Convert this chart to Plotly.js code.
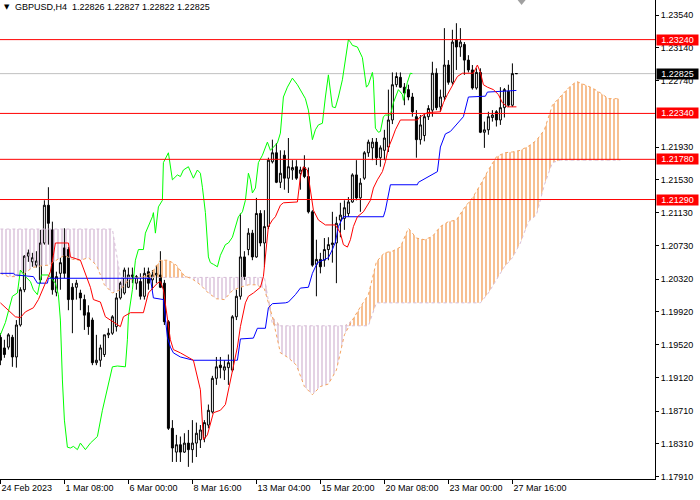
<!DOCTYPE html>
<html><head><meta charset="utf-8">
<script src="https://cdn.plot.ly/plotly-3.0.1.min.js"></script>
<style>html,body{margin:0;padding:0;background:#fff}#chart{width:700px;height:500px}</style>
</head><body><div id="chart"></div>
<script>
const symbol = 'GBPUSD,H4';
const xTickBars = [0,16,32,48,64,80,96,112,128];
const xTickLabels = ['24 Feb 2023','1 Mar 08:00','6 Mar 00:00','8 Mar 16:00','13 Mar 04:00','15 Mar 20:00','20 Mar 08:00','23 Mar 00:00','27 Mar 16:00'];
const yTicks = [1.23540,1.23140,1.22740,1.21930,1.21530,1.21130,1.20730,1.20320,1.19920,1.19520,1.19120,1.18710,1.18310,1.17910];
const levels = [1.23240,1.22340,1.21780,1.21290];
const bid = 1.22825;

const open = [1.1961,1.1948,1.1949,1.1961,1.1937,1.1976,1.2019,1.2060,1.2053,1.2049,
1.2031,1.2076,1.2122,1.2092,1.2016,1.2039,1.2070,1.2068,1.2022,1.2022,
1.2015,1.2007,1.1991,1.1982,1.1930,1.1933,1.1940,1.1964,1.1966,1.1974,
1.2009,1.2015,1.2022,1.2035,1.2027,1.2029,1.2011,1.2041,1.2031,1.2037,
1.2037,1.2027,1.1980,1.1850,1.1821,1.1830,1.1821,1.1832,1.1824,1.1832,
1.1836,1.1838,1.1854,1.1870,1.1911,1.1927,1.1921,1.1924,1.1921,1.1986,
1.2011,1.2059,1.2068,1.2088,1.2059,1.2112,1.2076,1.2096,1.2175,1.2186,
1.2150,1.2183,1.2155,1.2165,1.2169,1.2161,1.2168,1.2157,1.2114,1.2050,
1.2056,1.2055,1.2068,1.2074,1.2076,1.2104,1.2106,1.2112,1.2126,1.2159,
1.2131,1.2155,1.2186,1.2192,1.2199,1.2180,1.2189,1.2193,1.2226,1.2269,
1.2278,1.2266,1.2263,1.2254,1.2230,1.2202,1.2207,1.2230,1.2238,1.2283,
1.2242,1.2254,1.2293,1.2272,1.2324,1.2315,1.2318,1.2299,1.2287,1.2265,
1.2284,1.2211,1.2214,1.2229,1.2236,1.2226,1.2241,1.2261,1.2244,1.22826];
const high = [1.1966,1.1958,1.1966,1.1964,1.1982,1.2022,1.2061,1.2068,1.2064,1.2066,
1.2092,1.2128,1.2144,1.2102,1.2041,1.2058,1.2094,1.2071,1.2027,1.2031,
1.2019,1.2013,1.2000,1.1985,1.1964,1.1952,1.1964,1.1972,1.1988,1.2015,
1.2029,1.2046,1.2046,1.2046,1.2037,1.2039,1.2046,1.2046,1.2043,1.2049,
1.2066,1.2031,1.1982,1.1860,1.1842,1.1840,1.1844,1.1848,1.1860,1.1857,
1.1854,1.1860,1.1879,1.1914,1.1937,1.1937,1.1933,1.1940,1.1988,1.2019,
1.2112,1.2066,1.2094,1.2092,1.2131,1.2116,1.2116,1.2180,1.2202,1.2198,
1.2189,1.2189,1.2204,1.2177,1.2177,1.2169,1.2183,1.2168,1.2116,1.2080,
1.2064,1.2082,1.2083,1.2114,1.2108,1.2125,1.2128,1.2132,1.2161,1.2177,
1.2155,1.2188,1.2202,1.2204,1.2204,1.2195,1.2214,1.2263,1.2284,1.2284,
1.2284,1.2271,1.2269,1.2259,1.2238,1.2232,1.2234,1.2244,1.2297,1.2289,
1.2263,1.2338,1.2299,1.2336,1.2344,1.2338,1.2321,1.2305,1.2293,1.2289,
1.2289,1.2224,1.2236,1.2238,1.2238,1.2266,1.2265,1.2269,1.2295,1.22827];
const low = [1.1927,1.1936,1.1946,1.1925,1.1924,1.1974,1.2016,1.2053,1.2047,1.2046,
1.2027,1.2074,1.2074,1.2013,1.2011,1.2019,1.2033,1.1994,1.1966,1.2007,
1.1994,1.1970,1.1964,1.1927,1.1927,1.1925,1.1937,1.1960,1.1964,1.1968,
1.2007,1.2013,1.2021,1.2027,1.2019,1.2007,1.2007,1.2019,1.2019,1.2027,
1.2021,1.1976,1.1848,1.1809,1.1809,1.1809,1.1820,1.1803,1.1808,1.1815,
1.1826,1.1833,1.1850,1.1868,1.1903,1.1911,1.1909,1.1903,1.1919,1.1982,
1.2007,1.2031,1.2061,1.2055,1.2058,1.2072,1.2047,1.2093,1.2173,1.2149,
1.2143,1.2141,1.2137,1.2153,1.2153,1.2141,1.2155,1.2112,1.2047,1.2011,
1.2039,1.2047,1.2055,1.2052,1.2027,1.2083,1.2092,1.2108,1.2125,1.2128,
1.2114,1.2153,1.2181,1.2177,1.2171,1.2169,1.2177,1.2187,1.2221,1.2266,
1.2265,1.2244,1.2250,1.2230,1.2180,1.2196,1.2200,1.2226,1.2230,1.2238,
1.2236,1.2250,1.2269,1.2269,1.2287,1.2303,1.2281,1.2284,1.2263,1.2263,
1.2210,1.2192,1.2208,1.2224,1.2218,1.2220,1.2229,1.2242,1.2242,1.22822];
const close = [1.1933,1.1940,1.1964,1.1937,1.1976,1.2019,1.2060,1.2064,1.2058,1.2054,
1.2076,1.2122,1.2100,1.2019,1.2035,1.2052,1.2039,1.2007,1.2007,1.2027,
1.2009,1.1988,1.1974,1.1930,1.1933,1.1948,1.1964,1.1966,1.1986,1.2009,
1.2027,1.2043,1.2037,1.2037,1.2035,1.2011,1.2039,1.2027,1.2037,1.2039,
1.2022,1.1980,1.1850,1.1826,1.1830,1.1821,1.1832,1.1824,1.1832,1.1844,
1.1848,1.1857,1.1872,1.1911,1.1925,1.1924,1.1925,1.1930,1.1986,1.2011,
1.2059,1.2035,1.2088,1.2059,1.2112,1.2076,1.2096,1.2177,1.2186,1.2150,
1.2161,1.2155,1.2169,1.2168,1.2155,1.2165,1.2157,1.2114,1.2049,1.2056,
1.2047,1.2068,1.2074,1.2076,1.2100,1.2110,1.2119,1.2126,1.2159,1.2131,
1.2149,1.2186,1.2199,1.2199,1.2180,1.2192,1.2204,1.2226,1.2269,1.2279,
1.2266,1.2259,1.2254,1.2236,1.2202,1.2220,1.2230,1.2240,1.2283,1.2241,
1.2254,1.2293,1.2272,1.2321,1.2315,1.2321,1.2299,1.2287,1.2265,1.2284,
1.2211,1.2214,1.2230,1.2232,1.2226,1.2241,1.2263,1.2244,1.22825,1.22825];

// Tenkan-sen (red)
const tenkanBar = [0,3.75,5,6.25,8.25,9.5,11.25,12.5,13.25,13.75,17,17.5,20,21.25,22.5,23.25,25,26.25,28.25,30,30.75,32.5,35.75,37,39.25,40,40.75,41.75,42.5,43.25,45,48.25,50,50.75,51.75,53.25,55,56.25,58,59.25,60,61.25,62,63.25,65,65.75,67,68,68.75,70,70.75,74.25,75,75.75,76.75,77.5,78.25,79.5,81.25,83.75,85,85.75,86.75,87.5,88.25,89.25,90.75,92.5,93.25,94.25,95.5,96.25,97,98,98.75,100,104.25,105,106.75,110,110.75,111.75,113,114.25,115.5,118.25,119.25,120,120.75,121.75,123.25,124.5,125.5,126.75,129];
const tenkan = [1.2003,1.1986,1.1985,1.1992,1.1997,1.2007,1.2027,1.2041,1.2061,1.2076,1.2076,1.2059,1.2055,1.2039,1.2022,1.2007,1.2004,1.1986,1.1980,1.1974,1.1986,1.1991,1.1991,1.2015,1.2027,1.2029,1.2019,1.1982,1.1958,1.1946,1.1942,1.1933,1.1897,1.1836,1.1842,1.1869,1.1872,1.1879,1.1921,1.1949,1.1974,1.2003,1.2011,1.2015,1.2022,1.2035,1.2096,1.2104,1.2108,1.2122,1.2125,1.2126,1.2157,1.2169,1.2165,1.2137,1.2116,1.2104,1.2098,1.2098,1.2088,1.2074,1.2071,1.2080,1.2096,1.2108,1.2114,1.2128,1.2143,1.2153,1.2163,1.2175,1.2192,1.2204,1.2214,1.2226,1.2226,1.2230,1.2235,1.2236,1.2247,1.2257,1.2269,1.2279,1.2283,1.2283,1.2293,1.2284,1.2269,1.2266,1.2263,1.2257,1.2247,1.2242,1.2242];

// Kijun-sen (blue)
const kijunBar = [0,3.25,3.75,8.25,9.25,11.75,12,37.5,38.25,40.75,41.75,42.5,43.25,45,48.25,59.25,60,63.25,64.25,66.25,67,68,71.25,72,73.75,75,77,78,79.25,80.75,82,83,83.75,84.5,85.75,95.75,96.25,97.5,104.25,104.5,107,109.25,110,111.25,112.5,114.25,115.75,117,121.25,121.75,129];
const kijun = [1.2039,1.2039,1.2037,1.2035,1.2027,1.2027,1.2033,1.2033,1.2009,1.2007,1.1961,1.1949,1.1942,1.1937,1.1933,1.1933,1.1959,1.1960,1.1972,1.1972,1.1997,1.2002,1.2003,1.2004,1.2013,1.2021,1.2022,1.2039,1.2052,1.2055,1.2058,1.2068,1.2077,1.2096,1.2108,1.2108,1.2116,1.2147,1.2147,1.2150,1.2157,1.2163,1.2193,1.2209,1.2212,1.2222,1.2230,1.2254,1.2255,1.2260,1.2262];

// Chikou span (green)
const chikouBar = [0,1.25,3,4.25,5,6.25,7.5,8.25,9.25,10.25,12,13.75,14.5,15,15.5,16,16.75,17.5,18.25,19.25,20,21.25,22.5,24.25,25.5,26.75,27.5,28,29.25,31.25,31.75,32,33,33.75,34.5,35.75,36.25,37,38,38.25,38.75,39.5,40.5,40.75,41.75,42,43,44.25,45,45.75,47,48.25,49.25,50,50.5,51.25,52,52.5,53.25,54.25,55,56.25,57,58,59.5,60.5,61.25,62,62.5,63,63.75,64.5,65.5,66.75,67.5,68.25,69.25,70,70.75,71.75,73,74.25,75,76.25,77,77.5,78,78.75,79.5,80.5,80.75,81.25,82,83,83.75,84.5,85.5,86.25,87,87.5,88,89.25,90.5,91.5,92,93,93.25,93.75,94.5,95,95.75,96.25,97.5,98.25,99.5,100.5,100.75,101.75,102.5,103];
const chikou = [1.1964,1.1979,1.2011,1.2015,1.2043,1.2035,1.2029,1.2019,1.2013,1.2037,1.2037,1.2027,1.2013,1.1982,1.1909,1.1860,1.1827,1.1826,1.1828,1.1824,1.1832,1.1824,1.1832,1.1840,1.1872,1.1897,1.1915,1.1925,1.1926,1.1925,1.1958,1.1986,1.2019,1.2055,1.2068,1.2068,1.2088,1.2096,1.2108,1.2113,1.2088,1.2120,1.2128,1.2174,1.2183,1.2186,1.2153,1.2159,1.2157,1.2165,1.2169,1.2155,1.2165,1.2161,1.2144,1.2113,1.2059,1.2052,1.2050,1.2047,1.2061,1.2074,1.2076,1.2083,1.2108,1.2114,1.2128,1.2161,1.2153,1.2137,1.2143,1.2174,1.2183,1.2199,1.2189,1.2193,1.2198,1.2210,1.2254,1.2266,1.2277,1.2269,1.2263,1.2252,1.2238,1.2216,1.2202,1.2214,1.2220,1.2222,1.2235,1.2254,1.2281,1.2242,1.2241,1.2254,1.2275,1.2299,1.2324,1.2321,1.2317,1.2315,1.2302,1.2266,1.2269,1.2284,1.2275,1.2216,1.2211,1.2212,1.2230,1.2232,1.2232,1.2247,1.2263,1.2257,1.2250,1.2272,1.2283,1.22825];

// Kumo (Senkou Span A / B), shifted 26 bars forward
const cloudBar = [0,2,4,6,8,10,12,14,16,18,20,22,24,26,28,30,32,34,36,38,40,42,44,46,48,50,52,54,56,58,60,62,64,66,68,70,72,74,76,78,80,82,84,86,88,90,92,94,96,98,100,102,104,106,108,110,112,114,116,118,120,122,124,126,128,130,132,134,136,138,140,142,144,146,148,150,152,154,155];
const senkouA = [1.2039,1.2035,1.2035,1.2039,1.2046,1.2048,1.2049,1.2055,1.2061,1.2056,1.2055,1.2058,1.2049,1.2025,1.2015,1.2019,1.2031,1.2033,1.2035,1.2041,1.2055,1.2055,1.2049,1.2036,1.2032,1.2025,1.2015,1.2008,1.2007,1.2018,1.2022,1.2025,1.2025,1.2020,1.1986,1.1942,1.1936,1.1927,1.1901,1.1891,1.1901,1.1904,1.1921,1.1964,1.1982,1.1998,1.2013,1.2053,1.2064,1.2066,1.2071,1.2094,1.2082,1.2080,1.2084,1.2096,1.2102,1.2104,1.2119,1.2131,1.2147,1.2165,1.2181,1.2186,1.2187,1.2189,1.2194,1.2201,1.2214,1.2244,1.2254,1.2265,1.2273,1.2269,1.2265,1.2259,1.2252,1.2252,1.2252];
const senkouB = [1.2093,1.2093,1.2093,1.2093,1.2093,1.2093,1.2093,1.2093,1.2093,1.2093,1.2093,1.2093,1.2093,1.2093,1.2093,
1.2034,1.2034,1.2034,1.2034,1.2034,1.2034,1.2034,1.2034,1.2034,1.2034,1.2034,1.2034,1.2034,1.2034,1.2034,1.2034,1.2034,1.2034,1.2034,
1.1977,1.1975,1.1975,1.1975,1.1975,1.1975,1.1975,1.1975,1.1975,1.1975,1.1975,1.1975,1.1975,
1.2003,1.2003,1.2003,1.2003,1.2003,1.2003,1.2003,1.2003,1.2003,1.2003,1.2003,1.2003,1.2003,1.2003,
1.2015,1.2031,1.2047,1.2058,1.2076,1.2102,1.2110,1.2147,1.2174,1.2177,1.2177,1.2177,1.2177,1.2177,1.2177,1.2177,1.2177,1.2177];

const bars = open.map((_, i) => i);
const kumoTop = senkouA.map((a, i) => Math.max(a, senkouB[i]));

const FONT = 'Liberation Sans, Arial, sans-serif';
const ORANGE = '#F4A460', THISTLE = '#D8BFD8';

const traces = [
  {type:'scatter', mode:'lines', x:cloudBar, y:senkouB, line:{color:THISTLE, width:1, dash:'dot'}, hoverinfo:'skip'},
  {type:'scatter', mode:'lines', x:cloudBar, y:kumoTop, line:{width:0, color:'rgba(0,0,0,0)'}, fill:'tonexty',
   fillcolor:'rgba(0,0,0,0)', fillpattern:{shape:'|', size:4, solidity:0.35, fgcolor:ORANGE, fgopacity:1, bgcolor:'rgba(0,0,0,0)', fillmode:'overlay'}, hoverinfo:'skip'},
  {type:'scatter', mode:'lines', x:cloudBar, y:senkouA, line:{color:ORANGE, width:1, dash:'dot'}, hoverinfo:'skip'},
  {type:'scatter', mode:'lines', x:cloudBar, y:kumoTop, line:{width:0, color:'rgba(0,0,0,0)'}, fill:'tonexty',
   fillcolor:'rgba(0,0,0,0)', fillpattern:{shape:'|', size:4, solidity:0.35, fgcolor:THISTLE, fgopacity:1, bgcolor:'rgba(0,0,0,0)', fillmode:'overlay'}, hoverinfo:'skip'},
  {type:'candlestick', x:bars, open:open, high:high, low:low, close:close, whiskerwidth:0,
   increasing:{line:{color:'#000000', width:1}, fillcolor:'#FFFFFF'},
   decreasing:{line:{color:'#000000', width:1}, fillcolor:'#000000'}, hoverinfo:'skip'},
  {type:'scatter', mode:'lines', x:chikouBar, y:chikou, line:{color:'#00FF00', width:1}, hoverinfo:'skip'},
  {type:'scatter', mode:'lines', x:kijunBar, y:kijun, line:{color:'#0000FF', width:1}, hoverinfo:'skip'},
  {type:'scatter', mode:'lines', x:tenkanBar, y:tenkan, line:{color:'#FF0000', width:1}, hoverinfo:'skip'}
];

const shapes = levels.map(v => ({type:'line', xref:'paper', x0:0, x1:1, yref:'y', y0:v, y1:v, line:{color:'#FF0000', width:1}, layer:'above'}));
shapes.push({type:'line', xref:'paper', x0:0, x1:1, yref:'y', y0:bid, y1:bid, line:{color:'#C0C0C0', width:1}, layer:'below'});
// chart-shift marker (grey triangle at the top edge)
shapes.push({type:'path', xref:'x', xsizemode:'pixel', xanchor:130.3, yref:'paper', ysizemode:'pixel', yanchor:1,
  path:'M -4,0 L 4,0 L 0,-5 Z', fillcolor:'#A0A0A0', line:{width:0}, layer:'above'});

const boxBase = {xref:'paper', x:1, xanchor:'left', xshift:1, yref:'y', yanchor:'middle', showarrow:false,
  font:{family:FONT, size:9, color:'#FFFFFF'}, borderpad:0, width:41, height:10, align:'center', valign:'middle'};
const annotations = levels.map(v => Object.assign({}, boxBase, {y:v, text:v.toFixed(5), bgcolor:'#FF0000'}));
annotations.push(Object.assign({}, boxBase, {y:bid, text:bid.toFixed(5), bgcolor:'#000000'}));
const last = open.length - 1;
annotations.push({xref:'paper', x:0, xanchor:'left', xshift:2, yref:'paper', y:1, yanchor:'top', yshift:-1,
  text:'▼', showarrow:false, font:{family:'DejaVu Sans', size:7, color:'#000'}});
annotations.push({xref:'paper', x:0, xanchor:'left', xshift:13, yref:'paper', y:1, yanchor:'top', yshift:0,
  text: symbol + '  ' + [open[last], high[last], low[last], close[last]].map(v => v.toFixed(5)).join(' '),
  showarrow:false, font:{family:FONT, size:9, color:'#000'}});

const layout = {
  width:700, height:500, margin:{l:0, r:45, t:0, b:21}, paper_bgcolor:'#FFFFFF', plot_bgcolor:'#FFFFFF',
  showlegend:false, hovermode:false, dragmode:false,
  xaxis:{range:[-0.1,163.65], tickmode:'array', tickvals:xTickBars, ticktext:xTickLabels, ticks:'outside', ticklen:4,
    tickcolor:'#000', ticklabelposition:'outside right', showline:true, linecolor:'#000', linewidth:1, showgrid:false,
    zeroline:false, rangeslider:{visible:false}, tickfont:{family:FONT, size:9, color:'#000'}, fixedrange:true},
  yaxis:{side:'right', range:[1.17882,1.23723], tickmode:'array', tickvals:yTicks, ticktext:yTicks.map(v => v.toFixed(5)),
    ticks:'outside', ticklen:3, tickcolor:'#000', showline:true, linecolor:'#000', linewidth:1, showgrid:false, zeroline:false,
    tickfont:{family:FONT, size:9, color:'#000'}, fixedrange:true},
  shapes:shapes, annotations:annotations
};

Plotly.newPlot('chart', traces, layout, {staticPlot:true, displayModeBar:false});
</script>
</body></html>
